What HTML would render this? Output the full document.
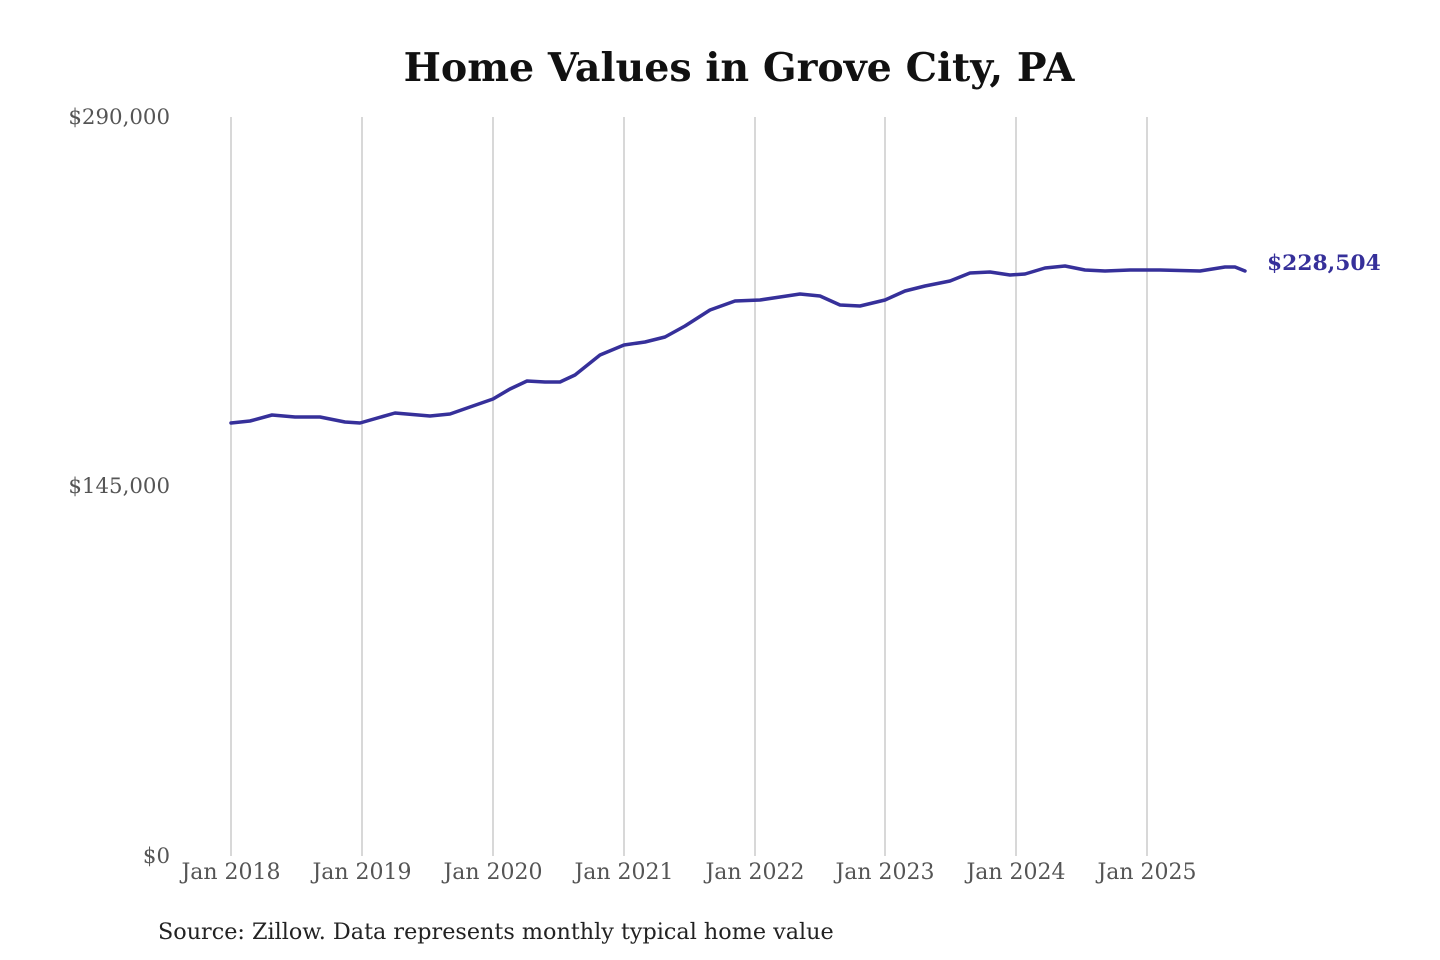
<!DOCTYPE html>
<html><head><meta charset="utf-8"><style>
body{margin:0;background:#fff;}
svg{display:block;font-family:"DejaVu Serif","Liberation Serif",serif;}
</style></head><body>
<svg width="1440" height="960" viewBox="0 0 1440 960">
<rect width="1440" height="960" fill="#fff"/>
<text x="739" y="81" text-anchor="middle" font-size="39.5" font-weight="bold" fill="#111">Home Values in Grove City, PA</text>
<g stroke="#c4c4c4" stroke-width="1.3">
<line x1="231" y1="117" x2="231" y2="856"/><line x1="362" y1="117" x2="362" y2="856"/>
<line x1="493" y1="117" x2="493" y2="856"/><line x1="624" y1="117" x2="624" y2="856"/>
<line x1="755" y1="117" x2="755" y2="856"/><line x1="885" y1="117" x2="885" y2="856"/>
<line x1="1016" y1="117" x2="1016" y2="856"/><line x1="1147" y1="117" x2="1147" y2="856"/>
</g>
<g font-size="21.3" fill="#555" text-anchor="end">
<text x="170" y="124">$290,000</text>
<text x="170" y="493">$145,000</text>
<text x="170" y="863">$0</text>
</g>
<g font-size="22" fill="#555" text-anchor="middle">
<text x="231" y="879">Jan 2018</text><text x="362" y="879">Jan 2019</text>
<text x="493" y="879">Jan 2020</text><text x="624" y="879">Jan 2021</text>
<text x="755" y="879">Jan 2022</text><text x="885" y="879">Jan 2023</text>
<text x="1016" y="879">Jan 2024</text><text x="1147" y="879">Jan 2025</text>
</g>
<polyline fill="none" stroke="#36309a" stroke-width="3.5" stroke-linejoin="round" stroke-linecap="round" points="231,423 250,421 272,415 295,417 320,417 345,422 360,423 395,413 430,416 450,414 470,407 493,399 510,389 527,381 545,382 560,382 575,375 600,355 624,345 645,342 665,337 685,326 710,310 735,301 760,300 780,297 800,294 820,296 840,305 860,306 885,300 905,291 925,286 950,281 970,273 990,272 1010,275 1025,274 1045,268 1065,266 1085,270 1105,271 1130,270 1160,270 1200,271 1225,267 1235,267 1245,271"/>
<text x="1267" y="270" font-size="21.8" font-weight="bold" fill="#36309a">$228,504</text>
<text x="158" y="939" font-size="22.3" fill="#222">Source: Zillow. Data represents monthly typical home value</text>
</svg>
</body></html>
